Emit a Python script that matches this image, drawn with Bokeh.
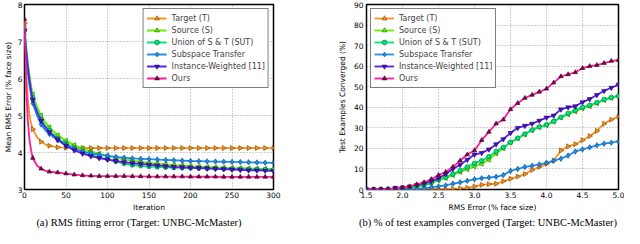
import html
import numpy as np
from bokeh.plotting import figure
from bokeh.layouts import row, column
from bokeh.models import Legend, LegendItem, FixedTicker, Range1d, Div
from bokeh.embed import file_html
from bokeh.resources import INLINE

# ---------------- data: (a) RMS fitting error vs iteration ----------------
iterations = [0, 2, 4, 6, 8, 10, 15, 20, 25, 30, 40, 50, 60, 70, 80, 90, 100,
              110, 120, 130, 140, 150, 160, 170, 180, 190, 200, 210, 220, 230,
              240, 250, 260, 270, 280, 290, 300]
rms_target = [7.5, 6.2, 5.45, 5.0, 4.78, 4.63, 4.42, 4.29, 4.22, 4.18, 4.14, 4.13, 4.13,
              4.12, 4.12, 4.12, 4.12, 4.12, 4.12, 4.12, 4.12, 4.12, 4.12, 4.12, 4.12,
              4.12, 4.12, 4.12, 4.12, 4.12, 4.12, 4.12, 4.12, 4.12, 4.12, 4.12, 4.12]
rms_source = [7.4, 6.9, 6.45, 6.1, 5.8, 5.57, 5.25, 5.0, 4.82, 4.68, 4.47, 4.32, 4.2,
              4.11, 4.03, 3.97, 3.91, 3.86, 3.82, 3.78, 3.75, 3.72, 3.70, 3.68, 3.66,
              3.65, 3.63, 3.62, 3.61, 3.60, 3.59, 3.58, 3.575, 3.57, 3.565, 3.56, 3.555]
rms_union = [7.3, 6.8, 6.35, 6.0, 5.72, 5.48, 5.15, 4.9, 4.72, 4.6, 4.38, 4.24, 4.12,
             4.02, 3.94, 3.87, 3.82, 3.76, 3.70, 3.66, 3.64, 3.62, 3.61, 3.60, 3.59,
             3.585, 3.58, 3.575, 3.57, 3.565, 3.56, 3.555, 3.55, 3.545, 3.54, 3.54, 3.535]
rms_subspace = [7.2, 6.6, 6.15, 5.8, 5.55, 5.33, 5.0, 4.76, 4.6, 4.5, 4.33, 4.2, 4.1,
                4.03, 3.98, 3.94, 3.91, 3.88, 3.86, 3.84, 3.83, 3.82, 3.81, 3.80, 3.79,
                3.78, 3.77, 3.765, 3.76, 3.755, 3.75, 3.745, 3.74, 3.735, 3.73, 3.725, 3.72]
rms_instance = [7.3, 6.75, 6.3, 5.95, 5.65, 5.42, 5.1, 4.86, 4.68, 4.55, 4.35, 4.18, 4.06,
                3.97, 3.90, 3.85, 3.81, 3.77, 3.74, 3.71, 3.69, 3.67, 3.65, 3.63, 3.61,
                3.60, 3.59, 3.58, 3.57, 3.56, 3.55, 3.54, 3.53, 3.52, 3.515, 3.51, 3.50]
rms_ours = [7.6, 5.8, 4.85, 4.35, 4.05, 3.85, 3.65, 3.56, 3.51, 3.48, 3.46, 3.43, 3.40,
            3.38, 3.37, 3.36, 3.36, 3.36, 3.36, 3.355, 3.355, 3.35, 3.35, 3.35, 3.35,
            3.35, 3.345, 3.345, 3.345, 3.345, 3.34, 3.34, 3.34, 3.34, 3.34, 3.34, 3.34]

# ---------------- data: (b) % of test examples converged ----------------
rms_threshold = [1.5, 1.6, 1.7, 1.8, 1.9, 2.0, 2.1, 2.2, 2.3, 2.4, 2.5, 2.6, 2.7, 2.8,
                 2.9, 3.0, 3.1, 3.2, 3.3, 3.4, 3.5, 3.6, 3.7, 3.8, 3.9, 4.0, 4.1, 4.2,
                 4.3, 4.4, 4.5, 4.6, 4.7, 4.8, 4.9, 5.0]
conv_target = [0, 0, 0, 0, 0, 0, 0, 0, 0, 0, 0, 0, 0.3, 0.5, 0.8, 1.5, 2.3, 2.6, 2.8,
               4.0, 5.2, 6.3, 7.5, 9.5, 11, 12.5, 14, 19, 21, 22, 24, 26, 28.5, 32, 34, 35.5]
conv_source = [0, 0, 0, 0, 0.3, 0.5, 0.8, 1.2, 2, 3, 4.5, 5.5, 7, 8.5, 9.8, 11.2, 12.5,
               14.5, 17.5, 20, 22.8, 24.8, 26.8, 28.8, 30.3, 31.3, 33, 35, 36.5, 38,
               39.5, 40.5, 42, 43.5, 44.5, 45.5]
conv_union = [0, 0, 0, 0, 0.3, 0.5, 0.8, 1.3, 2.2, 3.3, 4.8, 6, 7.5, 9.2, 11, 12.8, 14,
              16, 18.5, 20.5, 23, 25, 27, 29, 30.5, 31.5, 33.2, 35.2, 37, 38.5, 40, 41,
              42.3, 43.8, 44.8, 45.5]
conv_subspace = [0, 0, 0, 0, 0, 0, 0, 0.2, 0.5, 1, 1.5, 2, 2.8, 3.5, 4.2, 5, 5.5, 5.8,
                 6.2, 7, 9, 10, 11, 11.5, 12.2, 13, 14, 15, 16.5, 18.5, 19.5, 20.5, 21.5,
                 22.3, 22.8, 23.5]
conv_instance = [0, 0, 0, 0, 0.8, 1, 1.5, 2.2, 3, 4, 5.5, 7.5, 10, 12, 14.5, 17, 17.8,
                 19.5, 22, 24.5, 27.5, 30, 31, 32, 33.5, 35, 36, 39, 40, 40.5, 42.5, 44,
                 46, 48, 49.5, 51]
conv_ours = [0, 0, 0, 0.2, 0.5, 1, 1.5, 2.5, 3.5, 5, 7, 8.5, 11, 14, 17, 19, 24, 28, 32,
             34, 39, 42, 44.5, 46, 47.5, 49, 52, 55, 56, 57, 59, 60, 60.5, 61.5, 62.5, 63]

series_names = ["Target (T)", "Source (S)", "Union of S & T (SUT)", "Subspace Transfer",
                "Instance-Weighted [11]", "Ours"]

left_ticks_x = [0, 50, 100, 150, 200, 250, 300]
left_ticks_y = [3, 4, 5, 6, 7, 8]
right_ticks_x = [1.5, 2.0, 2.5, 3.0, 3.5, 4.0, 4.5, 5.0]
right_ticks_y = [0, 10, 20, 30, 40, 50, 60, 70, 80, 90]

caption_a = "(a) RMS fitting error (Target: UNBC-McMaster)"
caption_b = "(b) % of test examples converged (Target: UNBC-McMaster)"

# ---------------- styles ----------------
line_colors = ["#f7931e", "#66f000", "#00e676", "#1f8fef", "#5a20e8", "#ff1aa0"]
marker_fill = ["#f7931e", "#66f000", "#00e676", "#1f8fef", "#4a10d0", "#70103c"]
marker_edge = ["#7a4000", "#2c6a00", "#006a35", "#0a3f7a", "#200060", "#3a0020"]
markers = ["triangle", "triangle", "circle", "diamond", "inverted_triangle", "triangle"]
angles = [-np.pi / 2, np.pi / 2, 0, 0, 0, 0]
msizes = [5, 5, 4.5, 5.5, 5, 4.5]

FONT = "DejaVu Sans"


def style_axis(ax):
    ax.axis_line_color = None
    ax.major_tick_line_color = None
    ax.minor_tick_line_color = None
    ax.major_tick_out = 0
    ax.major_tick_in = 0
    ax.minor_tick_out = 0
    ax.minor_tick_in = 0
    ax.major_label_text_font = FONT
    ax.major_label_text_font_size = "7.5px"
    ax.major_label_text_color = "black"
    ax.axis_label_text_font = FONT
    ax.axis_label_text_font_size = "7.5px"
    ax.axis_label_text_font_style = "normal"
    ax.axis_label_text_color = "black"


def style(p):
    p.outline_line_color = "black"
    p.outline_line_width = 1.5
    p.background_fill_color = "white"
    p.border_fill_color = "white"
    style_axis(p.xaxis[0])
    style_axis(p.yaxis[0])
    for g in (p.xgrid[0], p.ygrid[0]):
        g.grid_line_color = "#333333"
        g.grid_line_alpha = 0.6
        g.grid_line_dash = "1 2"
        g.grid_line_width = 0.8


def add_series(p, xs, ys_list, marker_every):
    items = []
    for i, ys in enumerate(ys_list):
        lr = p.line(xs, ys, line_color=line_colors[i], line_width=1.8)
        mx = [x for x in xs if marker_every(x)]
        my = [y for x, y in zip(xs, ys) if marker_every(x)]
        sr = p.scatter(mx, my, marker=markers[i], angle=angles[i], size=msizes[i],
                       fill_color=marker_fill[i], line_color=marker_edge[i], line_width=0.6)
        items.append(LegendItem(label=series_names[i], renderers=[lr, sr]))
    return items


def add_legend(p, items, loc):
    lg = Legend(items=items, location=loc, margin=4, padding=3, spacing=0,
                label_height=12, glyph_height=12, glyph_width=20, label_standoff=5,
                label_text_font=FONT, label_text_font_size="8px",
                border_line_color="black", border_line_width=1.3,
                background_fill_color="white", background_fill_alpha=1.0)
    p.add_layout(lg, "center")


def caption_div(text, inner_width, shift):
    body = ('<div style="width:%dpx;margin-left:%dpx;text-align:center;'
            'font-family:\'Liberation Serif\',serif;font-size:10.5px;line-height:13px;'
            'white-space:nowrap;color:#000;">%s</div>') % (inner_width, shift, html.escape(text))
    return Div(text=body, width=312, height=14, margin=(0, 0, 0, 0))


H = 214

# ---------------- left figure ----------------
p1 = figure(width=312, height=H, output_backend="svg", toolbar_location=None,
            x_range=Range1d(0, 300), y_range=Range1d(3, 8),
            min_border_left=17, min_border_right=39, min_border_top=4, min_border_bottom=20,
            x_axis_label="Iteration", y_axis_label="Mean RMS Error (% face size)")
p1.title.visible = False
style(p1)
p1.xaxis[0].ticker = FixedTicker(ticks=left_ticks_x)
p1.yaxis[0].ticker = FixedTicker(ticks=left_ticks_y)
p1.xaxis[0].major_label_standoff = 2
p1.xaxis[0].axis_label_standoff = 2
p1.yaxis[0].major_label_standoff = 2
p1.yaxis[0].axis_label_standoff = 2
items1 = add_series(p1, iterations,
                    [rms_target, rms_source, rms_union, rms_subspace, rms_instance, rms_ours],
                    lambda x: x % 10 == 0)
add_legend(p1, items1, "top_right")

# ---------------- right figure ----------------
p2 = figure(width=312, height=H, output_backend="svg", toolbar_location=None,
            x_range=Range1d(1.5, 5.0), y_range=Range1d(0, 90),
            min_border_left=54, min_border_right=6, min_border_top=4, min_border_bottom=20,
            x_axis_label="RMS Error (% face size)", y_axis_label="Test Examples Converged (%)")
p2.title.visible = False
style(p2)
p2.xaxis[0].ticker = FixedTicker(ticks=right_ticks_x)
p2.yaxis[0].ticker = FixedTicker(ticks=right_ticks_y)
p2.xaxis[0].major_label_overrides = {t: f"{t:.1f}" for t in right_ticks_x}
p2.xaxis[0].major_label_standoff = 2
p2.xaxis[0].axis_label_standoff = 2
p2.yaxis[0].major_label_standoff = 3
p2.yaxis[0].axis_label_standoff = 4
items2 = add_series(p2, rms_threshold,
                    [conv_target, conv_source, conv_union, conv_subspace, conv_instance, conv_ours],
                    lambda x: True)
add_legend(p2, items2, "top_left")

cap_a = caption_div(caption_a, 262, 8)
cap_b = caption_div(caption_b, 312, 20)

layout = column(row(p1, p2), row(cap_a, cap_b))

open("out.html", "w").write(file_html(layout, INLINE))
